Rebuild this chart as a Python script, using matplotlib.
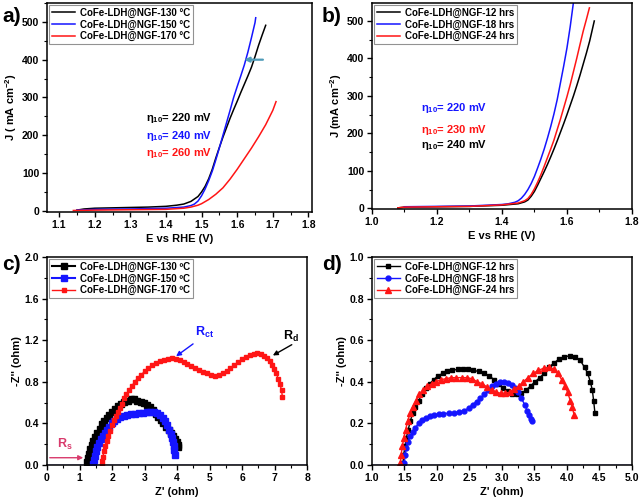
import numpy as np
import matplotlib
matplotlib.use("Agg")
import matplotlib.pyplot as plt
from matplotlib.ticker import MultipleLocator, AutoMinorLocator

# ---- panel a: LSV, temperature series ----
a130_E = [1.15, 1.17, 1.20, 1.25, 1.30, 1.35, 1.40, 1.43, 1.45, 1.47, 1.49,
          1.50, 1.51, 1.52, 1.53, 1.54, 1.55, 1.56, 1.57, 1.58, 1.59, 1.60,
          1.61, 1.62, 1.63, 1.64, 1.65, 1.66, 1.67, 1.68]
a130_J = [2, 5, 7, 8, 9, 10, 12, 15, 18, 25, 38,
          50, 65, 85, 110, 140, 168, 195, 220, 245, 268, 290,
          313, 335, 357, 380, 408, 438, 465, 491]
a150_E = [1.15, 1.20, 1.30, 1.40, 1.45, 1.47, 1.48, 1.49, 1.50, 1.51, 1.52,
          1.53, 1.54, 1.55, 1.56, 1.57, 1.58, 1.59, 1.60, 1.61, 1.62, 1.63,
          1.64, 1.65, 1.652]
a150_J = [2, 4, 5, 7, 10, 14, 18, 26, 40, 58, 80,
          105, 135, 167, 200, 233, 266, 300, 329, 357, 386, 420,
          458, 498, 511]
a170_E = [1.14, 1.20, 1.30, 1.40, 1.45, 1.47, 1.49, 1.50, 1.52, 1.54, 1.56,
          1.58, 1.60, 1.62, 1.64, 1.66, 1.68, 1.70, 1.709]
a170_J = [1, 2, 3, 4, 7, 10, 15, 19, 30, 44, 61,
          84, 110, 138, 166, 196, 228, 266, 289]
a_labels = ["CoFe-LDH@NGF-130 °C", "CoFe-LDH@NGF-150 °C", "CoFe-LDH@NGF-170 °C"]
a_eta = ["220", "240", "260"]

# ---- panel b: LSV, time series ----
b12_E = [1.08, 1.10, 1.20, 1.30, 1.40, 1.45, 1.47, 1.48, 1.49, 1.50, 1.51,
         1.52, 1.53, 1.54, 1.55, 1.56, 1.57, 1.58, 1.59, 1.60, 1.61, 1.62,
         1.63, 1.64, 1.65, 1.66, 1.67, 1.684]
b12_J = [1, 3, 4, 5, 8, 12, 17, 22, 32, 45, 62,
         80, 98, 117, 137, 158, 180, 203, 226, 250, 275, 300,
         327, 355, 385, 415, 447, 500]
b18_E = [1.10, 1.20, 1.30, 1.40, 1.42, 1.44, 1.45, 1.46, 1.47, 1.48, 1.49,
         1.50, 1.51, 1.52, 1.53, 1.54, 1.55, 1.56, 1.57, 1.58, 1.59, 1.60,
         1.61, 1.62]
b18_J = [4, 5, 6, 10, 12, 16, 20, 27, 37, 50, 66,
         85, 108, 132, 158, 187, 218, 252, 290, 335, 380, 428,
         485, 550]
b24_E = [1.08, 1.10, 1.20, 1.30, 1.40, 1.45, 1.47, 1.48, 1.49, 1.50, 1.51,
         1.52, 1.53, 1.54, 1.55, 1.56, 1.57, 1.58, 1.59, 1.60, 1.61, 1.62,
         1.63, 1.64, 1.65, 1.66, 1.669]
b24_J = [1, 3, 4, 5, 9, 14, 20, 26, 37, 52, 70,
         90, 112, 135, 158, 182, 210, 238, 268, 298, 330, 365,
         400, 437, 473, 505, 535]
b_labels = ["CoFe-LDH@NGF-12 hrs", "CoFe-LDH@NGF-18 hrs", "CoFe-LDH@NGF-24 hrs"]
b_eta = ["220", "230", "240"]

# ---- panel c: Nyquist, temperature series ----
c130_x = [1.22, 1.25, 1.29, 1.33, 1.38, 1.43, 1.49, 1.55, 1.62, 1.69,
          1.76, 1.84, 1.92, 2.00, 2.09, 2.18, 2.28, 2.38, 2.48, 2.58,
          2.68, 2.78, 2.88, 2.98, 3.08, 3.17, 3.26, 3.34, 3.42, 3.50,
          3.58, 3.66, 3.74, 3.81, 3.88, 3.94, 3.99, 4.02, 4.04]
c130_y = [0.03, 0.07, 0.11, 0.15, 0.19, 0.23, 0.27, 0.31, 0.35, 0.39,
          0.42, 0.45, 0.48, 0.51, 0.54, 0.57, 0.59, 0.61, 0.62, 0.63,
          0.63, 0.62, 0.61, 0.60, 0.58, 0.56, 0.53, 0.49, 0.46, 0.43,
          0.40, 0.37, 0.34, 0.31, 0.28, 0.25, 0.22, 0.19, 0.17]
c150_x = [1.42, 1.44, 1.47, 1.51, 1.55, 1.60, 1.65, 1.71, 1.77, 1.84,
          1.91, 1.99, 2.07, 2.16, 2.26, 2.36, 2.47, 2.58, 2.70, 2.82,
          2.94, 3.06, 3.18, 3.29, 3.39, 3.48, 3.56, 3.63, 3.69, 3.75,
          3.80, 3.85, 3.88, 3.91, 3.92, 3.93]
c150_y = [0.01, 0.05, 0.09, 0.13, 0.17, 0.21, 0.25, 0.28, 0.31, 0.34,
          0.37, 0.40, 0.42, 0.44, 0.46, 0.47, 0.48, 0.49, 0.49, 0.50,
          0.50, 0.51, 0.51, 0.51, 0.50, 0.48, 0.45, 0.42, 0.38, 0.34,
          0.30, 0.26, 0.22, 0.18, 0.14, 0.10]
c170_x = [1.69, 1.70, 1.72, 1.75, 1.79, 1.83, 1.88, 1.94, 2.00, 2.06,
          2.12, 2.18, 2.24, 2.30, 2.37, 2.44, 2.52, 2.61, 2.70, 2.80,
          2.90, 3.01, 3.12, 3.24, 3.36, 3.48, 3.60, 3.72, 3.84, 3.96,
          4.08, 4.20, 4.32, 4.44, 4.56, 4.68, 4.80, 4.92, 5.04, 5.16,
          5.28, 5.40, 5.52, 5.64, 5.76, 5.88, 6.00, 6.12, 6.24, 6.36,
          6.47, 6.58, 6.68, 6.77, 6.85, 6.92, 6.99, 7.05, 7.11, 7.16,
          7.21, 7.24]
c170_y = [0.00, 0.04, 0.08, 0.13, 0.18, 0.23, 0.28, 0.33, 0.38, 0.43,
          0.47, 0.51, 0.55, 0.59, 0.64, 0.68, 0.72, 0.76, 0.80, 0.84,
          0.87, 0.90, 0.93, 0.96, 0.98, 1.00, 1.01, 1.02, 1.03, 1.02,
          1.01, 0.99, 0.97, 0.95, 0.93, 0.91, 0.89, 0.88, 0.87, 0.86,
          0.87, 0.88, 0.90, 0.93, 0.96, 0.99, 1.02, 1.04, 1.06, 1.07,
          1.08, 1.07, 1.05, 1.03, 1.00, 0.96, 0.92, 0.88, 0.83, 0.78,
          0.72, 0.65]
c_labels = ["CoFe-LDH@NGF-130 ºC", "CoFe-LDH@NGF-150 ºC", "CoFe-LDH@NGF-170 ºC"]

# ---- panel d: Nyquist, time series ----
d12_x = [1.48, 1.49, 1.51, 1.53, 1.56, 1.59, 1.63, 1.67, 1.72, 1.77,
         1.83, 1.89, 1.95, 2.02, 2.09, 2.16, 2.24, 2.32, 2.40, 2.48,
         2.56, 2.64, 2.72, 2.80, 2.88, 2.95, 3.02, 3.09, 3.16, 3.23,
         3.30, 3.37, 3.44, 3.51, 3.58, 3.65, 3.72, 3.80, 3.88, 3.96,
         4.04, 4.12, 4.20, 4.27, 4.32, 4.36, 4.39, 4.41, 4.43]
d12_y = [0.01, 0.05, 0.09, 0.13, 0.17, 0.21, 0.25, 0.28, 0.31, 0.34,
         0.37, 0.39, 0.41, 0.43, 0.44, 0.45, 0.455, 0.46, 0.46, 0.46,
         0.455, 0.45, 0.44, 0.43, 0.41, 0.39, 0.37, 0.355, 0.34, 0.34,
         0.345, 0.36, 0.38, 0.40, 0.42, 0.44, 0.47, 0.49, 0.51, 0.52,
         0.525, 0.52, 0.505, 0.47, 0.44, 0.40, 0.36, 0.31, 0.25]
d18_x = [1.50, 1.51, 1.53, 1.56, 1.59, 1.63, 1.67, 1.72, 1.77, 1.83,
         1.89, 1.96, 2.03, 2.10, 2.18, 2.26, 2.34, 2.42, 2.49, 2.55,
         2.61, 2.67, 2.73, 2.79, 2.85, 2.91, 2.97, 3.03, 3.09, 3.15,
         3.20, 3.25, 3.30, 3.35, 3.39, 3.42, 3.44, 3.46]
d18_y = [0.01, 0.05, 0.08, 0.11, 0.14, 0.16, 0.18, 0.20, 0.215, 0.225,
         0.235, 0.24, 0.245, 0.245, 0.25, 0.25, 0.255, 0.26, 0.275, 0.29,
         0.305, 0.32, 0.34, 0.36, 0.38, 0.39, 0.40, 0.40, 0.395, 0.385,
         0.37, 0.35, 0.32, 0.29, 0.26, 0.24, 0.22, 0.21]
d24_x = [1.44, 1.45, 1.47, 1.49, 1.52, 1.55, 1.59, 1.63, 1.68, 1.73,
         1.79, 1.85, 1.92, 1.99, 2.06, 2.14, 2.22, 2.30, 2.38, 2.46,
         2.54, 2.62, 2.70, 2.77, 2.84, 2.91, 2.98, 3.05, 3.12, 3.19,
         3.26, 3.33, 3.40, 3.48, 3.56, 3.64, 3.72, 3.80, 3.86, 3.92,
         3.97, 4.01, 4.05, 4.08, 4.11]
d24_y = [0.01, 0.05, 0.09, 0.13, 0.17, 0.21, 0.25, 0.28, 0.31, 0.34,
         0.36, 0.38, 0.39, 0.40, 0.41, 0.415, 0.42, 0.42, 0.42, 0.42,
         0.415, 0.40, 0.39, 0.375, 0.36, 0.35, 0.345, 0.345, 0.35, 0.365,
         0.38, 0.40, 0.42, 0.44, 0.455, 0.465, 0.47, 0.46, 0.44, 0.41,
         0.38, 0.35, 0.31, 0.28, 0.24]
d_labels = ["CoFe-LDH@NGF-12 hrs", "CoFe-LDH@NGF-18 hrs", "CoFe-LDH@NGF-24 hrs"]

plt.rcParams['font.family'] = ['Liberation Sans', 'DejaVu Sans']
plt.rcParams['font.weight'] = 'bold'
plt.rcParams['axes.labelweight'] = 'bold'
plt.rcParams['mathtext.fontset'] = 'custom'
plt.rcParams['mathtext.rm'] = 'Liberation Sans:bold'
plt.rcParams['mathtext.bf'] = 'Liberation Sans:bold'
plt.rcParams['mathtext.it'] = 'Liberation Sans:bold'
plt.rcParams['mathtext.default'] = 'bf'

BLUE = '#1515ff'
RED = '#ff1515'


def style_ax(ax, xmaj, ymaj):
    for s in ax.spines.values():
        s.set_linewidth(1.1)
    ax.xaxis.set_major_locator(MultipleLocator(xmaj))
    ax.yaxis.set_major_locator(MultipleLocator(ymaj))
    ax.xaxis.set_minor_locator(AutoMinorLocator(2))
    ax.yaxis.set_minor_locator(AutoMinorLocator(2))
    ax.tick_params(which='major', direction='out', length=3.5, width=1, labelsize=7.5, pad=2)
    ax.tick_params(which='minor', direction='out', length=2, width=0.8)
    for lab in ax.get_xticklabels() + ax.get_yticklabels():
        lab.set_fontweight('bold')


def add_legend(ax):
    leg = ax.legend(loc='upper left', frameon=True, fancybox=False,
                    edgecolor='#777777', borderpad=0.25, labelspacing=0.15,
                    handlelength=2.4, handletextpad=0.5, borderaxespad=0.25,
                    prop={'weight': 'bold', 'size': 7})
    leg.get_frame().set_linewidth(0.8)
    return leg


fig = plt.figure(figsize=(6.4, 5.0), dpi=100)
ax_a = fig.add_axes([0.0734, 0.576, 0.4141, 0.418])
ax_b = fig.add_axes([0.581, 0.582, 0.4065, 0.412])
ax_c = fig.add_axes([0.0734, 0.070, 0.4066, 0.416])
ax_d = fig.add_axes([0.581, 0.070, 0.4065, 0.416])

# a)
ax_a.plot(a130_E, a130_J, color='black', lw=1.1, label=a_labels[0])
ax_a.plot(a150_E, a150_J, color=BLUE, lw=1.1, label=a_labels[1])
ax_a.plot(a170_E, a170_J, color=RED, lw=1.1, label=a_labels[2])
ax_a.set_xlim(1.066, 1.81)
ax_a.set_ylim(-3, 550)
style_ax(ax_a, 0.1, 100)
ax_a.set_xlabel('E vs RHE (V)', fontsize=8, labelpad=3)
ax_a.set_ylabel('J ( mA cm$^{-2}$)', fontsize=8, labelpad=2)
add_legend(ax_a)
for txt, col, yv in zip(a_eta, ['black', BLUE, RED], [245, 197, 152]):
    ax_a.text(1.345, yv, 'η$_{10}$= ' + txt + ' mV', color=col, fontsize=8,
              fontweight='bold', va='center')
ax_a.annotate('', xy=(1.612, 400), xytext=(1.68, 400),
              arrowprops=dict(arrowstyle='-|>', color='#4f9bb8', lw=1.6,
                              mutation_scale=7))

# b)
ax_b.plot(b12_E, b12_J, color='black', lw=1.1, label=b_labels[0])
ax_b.plot(b18_E, b18_J, color=BLUE, lw=1.1, label=b_labels[1])
ax_b.plot(b24_E, b24_J, color=RED, lw=1.1, label=b_labels[2])
ax_b.set_xlim(1.0, 1.8)
ax_b.set_ylim(-2, 548)
style_ax(ax_b, 0.2, 100)
ax_b.set_xlabel('E vs RHE (V)', fontsize=8, labelpad=3)
ax_b.set_ylabel('J (mA cm$^{-2}$)', fontsize=8, labelpad=2)
add_legend(ax_b)
for txt, col, yv in zip(b_eta, [BLUE, RED, 'black'], [268, 208, 168]):
    ax_b.text(1.15, yv, 'η$_{10}$= ' + txt + ' mV', color=col, fontsize=8,
              fontweight='bold', va='center')

# c)
ax_c.axhline(0, color=BLUE, lw=1.0)
ax_c.plot(c130_x, c130_y, color='black', lw=1.5, marker='s', ms=4.2, label=c_labels[0])
ax_c.plot(c150_x, c150_y, color=BLUE, lw=1.5, marker='s', ms=4.2, label=c_labels[1])
ax_c.plot(c170_x, c170_y, color=RED, lw=1.0, marker='s', ms=3.4, label=c_labels[2])
ax_c.set_xlim(0, 8)
ax_c.set_ylim(0, 2.0)
style_ax(ax_c, 1, 0.4)
ax_c.yaxis.set_major_formatter(plt.FormatStrFormatter('%.1f'))
ax_c.set_xlabel("Z' (ohm)", fontsize=8, labelpad=3)
ax_c.set_ylabel("-Z'' (ohm)", fontsize=8, labelpad=2)
add_legend(ax_c)
ax_c.annotate('', xy=(1.2, 0.07), xytext=(0.0, 0.07),
              arrowprops=dict(arrowstyle='-|>', color='#d83a6c', lw=1.0, mutation_scale=7))
ax_c.text(0.55, 0.2, 'R$_s$', color='#d83a6c', fontsize=9, ha='center', va='center')
ax_c.annotate('', xy=(3.9, 1.03), xytext=(4.56, 1.18),
              arrowprops=dict(arrowstyle='-|>', color=BLUE, lw=1.0, mutation_scale=7))
ax_c.text(4.85, 1.27, 'R$_{ct}$', color=BLUE, fontsize=9, ha='center', va='center')
ax_c.annotate('', xy=(6.87, 1.04), xytext=(7.6, 1.17),
              arrowprops=dict(arrowstyle='-|>', color='black', lw=1.0, mutation_scale=7))
ax_c.text(7.5, 1.24, 'R$_d$', color='black', fontsize=9, ha='center', va='center')

# d)
ax_d.axhline(0, color=BLUE, lw=1.0)
ax_d.plot(d12_x, d12_y, color='black', lw=1.0, marker='s', ms=3.5, label=d_labels[0])
ax_d.plot(d18_x, d18_y, color=BLUE, lw=1.0, marker='o', ms=3.5, label=d_labels[1])
ax_d.plot(d24_x, d24_y, color=RED, lw=1.0, marker='^', ms=4, label=d_labels[2])
ax_d.set_xlim(1.0, 5.0)
ax_d.set_ylim(0, 1.0)
style_ax(ax_d, 0.5, 0.2)
ax_d.xaxis.set_major_formatter(plt.FormatStrFormatter('%.1f'))
ax_d.yaxis.set_major_formatter(plt.FormatStrFormatter('%.1f'))
ax_d.set_xlabel("Z' (ohm)", fontsize=8, labelpad=3)
ax_d.set_ylabel("-Z'' (ohm)", fontsize=8, labelpad=2)
add_legend(ax_d)

for lab, x, y in [('a)', 0.003, 0.985), ('b)', 0.503, 0.985),
                  ('c)', 0.003, 0.490), ('d)', 0.503, 0.490)]:
    fig.text(x, y, lab, fontsize=15, fontweight='bold', va='top', ha='left')

fig.savefig('out.png', dpi=100)
